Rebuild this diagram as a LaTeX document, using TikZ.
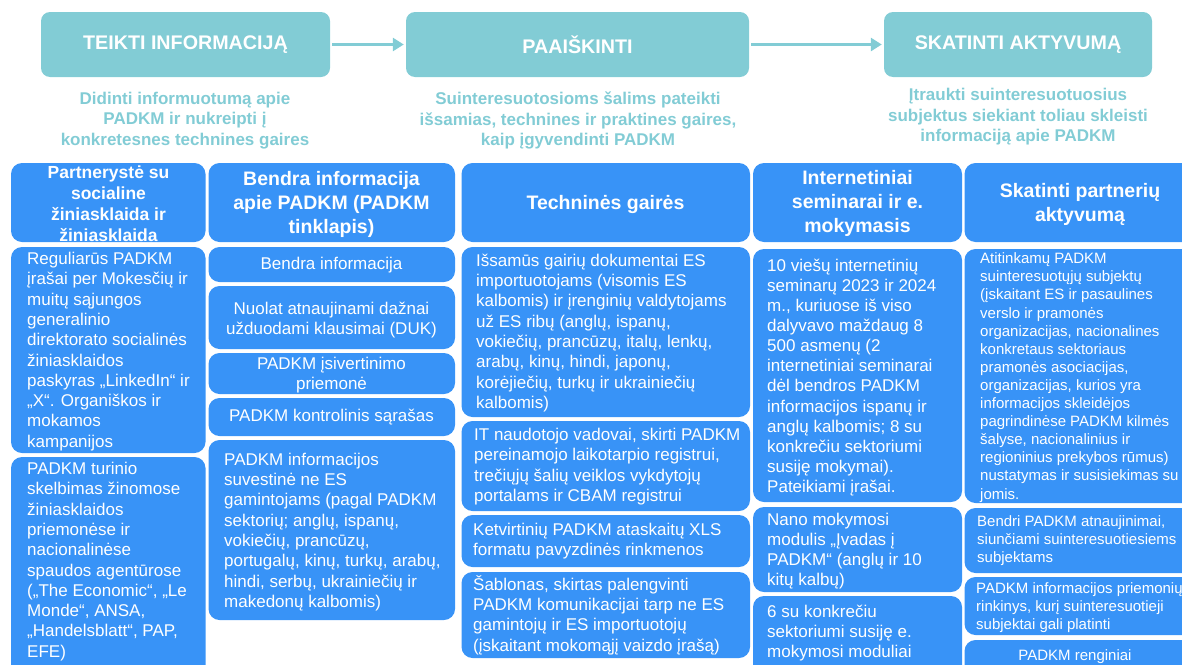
\documentclass[tikz,border=0pt]{standalone}
\usepackage{fontspec}
\setmainfont{Liberation Sans}
\usetikzlibrary{arrows.meta}

\definecolor{tealbox}{RGB}{130,204,213}
\definecolor{bluebox}{RGB}{56,147,247}

\begin{document}
\begin{tikzpicture}[x=1pt, y=-1pt,
  stage/.style={fill=tealbox, rounded corners=9, text=white, inner sep=0,
    minimum height=65, font=\bfseries\fontsize{19.7}{23}\selectfont},
  aim/.style={text=tealbox, align=center, inner sep=0,
    font=\bfseries\fontsize{17}{20.5}\selectfont},
  card/.style={fill=bluebox, rounded corners=11},
  colhead/.style={text=white, align=center, inner sep=0,
    font=\bfseries\fontsize{19.5}{24}\selectfont},
  body/.style={text=white, align=left, inner sep=0,
    font=\fontsize{17}{20.3}\selectfont},
  bodyc/.style={body, align=center},
  small/.style={text=white, align=left, inner sep=0,
    font=\fontsize{15}{18.1}\selectfont}]

\useasboundingbox (0,0) rectangle (1182,664);
\clip (0,0) rectangle (1182,664);

\node[stage, minimum width=289] at (185.5,44.5) (inform) {TEIKTI INFORMACIJĄ};
\node[stage, minimum width=343] at (577.5,44.5) (explain) {PAAIŠKINTI};
\node[stage, minimum width=268] at (1018,44.5) (engage) {SKATINTI AKTYVUMĄ};

\draw[tealbox, line width=3.5, -{Triangle[length=11, width=13]}] ([xshift=2]inform.east) -- ([xshift=-2]explain.west);
\draw[tealbox, line width=3.5, -{Triangle[length=11, width=13]}] ([xshift=2]explain.east) -- ([xshift=-2]engage.west);

\node[aim] at (185,120.5) (aiminform) {Didinti informuotumą apie\\PADKM ir nukreipti į\\konkretesnes technines gaires};
\node[aim] at (578,120.5) (aimexplain) {Suinteresuotosioms šalims pateikti\\išsamias, technines ir praktines gaires,\\kaip įgyvendinti PADKM};
\node[aim] at (1018,117) (aimengage) {Įtraukti suinteresuotuosius\\subjektus siekiant toliau skleisti\\informaciją apie PADKM};

% social media and media
\path[card] (11,163) rectangle (205.5,242);
\path[card] (11,247) rectangle (205.5,453);
\path[card] (11,457) rectangle (205.5,680);
\node[colhead, font=\bfseries\fontsize{17.5}{21}\selectfont] at (108.5,203.5) (mediahead) {Partnerystė su\\socialine\\žiniasklaida ir\\žiniasklaida};
\node[body, anchor=west] at (27,351.5) (posts) {Reguliarūs PADKM\\įrašai per Mokesčių ir\\muitų sąjungos\\generalinio\\direktorato socialinės\\žiniasklaidos\\paskyras „LinkedIn“ ir\\„X“. Organiškos ir\\mokamos\\kampanijos};
\node[body, anchor=west] at (27,561.5) (press) {PADKM turinio\\skelbimas žinomose\\žiniasklaidos\\priemonėse ir\\nacionalinėse\\spaudos agentūrose\\(„The Economic“, „Le\\Monde“, ANSA,\\„Handelsblatt“, PAP,\\EFE)};

% website
\path[card] (208.5,163) rectangle (455,242);
\path[card] (208.5,247) rectangle (455,282);
\path[card] (208.5,286) rectangle (455,349);
\path[card] (208.5,353) rectangle (455,394);
\path[card] (208.5,398) rectangle (455,436);
\path[card] (208.5,440) rectangle (455,620);
\node[colhead] at (331.5,204) (webhead) {Bendra informacija\\apie PADKM (PADKM\\tinklapis)};
\node[bodyc] at (331.5,265) (general) {Bendra informacija};
\node[bodyc] at (331.5,320) (faq) {Nuolat atnaujinami dažnai\\užduodami klausimai (DUK)};
\node[bodyc] at (331.5,375) (selfcheck) {PADKM įsivertinimo\\priemonė};
\node[bodyc] at (331.5,417) (checklist) {PADKM kontrolinis sąrašas};
\node[body, anchor=west] at (224,532) (factsheet) {PADKM informacijos\\suvestinė ne ES\\gamintojams (pagal PADKM\\sektorių; anglų, ispanų,\\vokiečių, prancūzų,\\portugalų, kinų, turkų, arabų,\\hindi, serbų, ukrainiečių ir\\makedonų kalbomis)};

% technical guidance
\path[card] (461.5,163) rectangle (750,242);
\path[card] (461.5,247) rectangle (750,417);
\path[card] (461.5,421) rectangle (750,511);
\path[card] (461.5,515) rectangle (750,567);
\path[card] (461.5,572) rectangle (750,658);
\node[colhead] at (605.5,204) (techhead) {Techninės gairės};
\node[body, anchor=west] at (476,333) (guides) {Išsamūs gairių dokumentai ES\\importuotojams (visomis ES\\kalbomis) ir įrenginių valdytojams\\už ES ribų (anglų, ispanų,\\vokiečių, prancūzų, italų, lenkų,\\arabų, kinų, hindi, japonų,\\korėjiečių, turkų ir ukrainiečių\\kalbomis)};
\node[body, anchor=west] at (474,466.5) (itguides) {IT naudotojo vadovai, skirti PADKM\\pereinamojo laikotarpio registrui,\\trečiųjų šalių veiklos vykdytojų\\portalams ir CBAM registrui};
\node[body, anchor=west] at (473,541) (xlsfiles) {Ketvirtinių PADKM ataskaitų XLS\\formatu pavyzdinės rinkmenos};
\node[body, anchor=west] at (473,615) (template) {Šablonas, skirtas palengvinti\\PADKM komunikacijai tarp ne ES\\gamintojų ir ES importuotojų\\(įskaitant mokomąjį vaizdo įrašą)};

% webinars and e-learning
\path[card] (753,163) rectangle (962,242);
\path[card] (753,249) rectangle (962,502);
\path[card] (753,507) rectangle (962,592);
\path[card] (753,596) rectangle (962,680);
\node[colhead] at (857.5,203.5) (learnhead) {Internetiniai\\seminarai ir e.\\mokymasis};
\node[body, anchor=west, font=\fontsize{17}{20.1}\selectfont] at (767,377.5) (webinars) {10 viešų internetinių\\seminarų 2023 ir 2024\\m., kuriuose iš viso\\dalyvavo maždaug 8\\500 asmenų (2\\internetiniai seminarai\\dėl bendros PADKM\\informacijos ispanų ir\\anglų kalbomis; 8 su\\konkrečiu sektoriumi\\susiję mokymai).\\Pateikiami įrašai.};
\node[body, anchor=west, font=\fontsize{17}{20.1}\selectfont] at (767,551) (nano) {Nano mokymosi\\modulis „Įvadas į\\PADKM“ (anglų ir 10\\kitų kalbų)};
\node[body, anchor=west, font=\fontsize{17}{20.1}\selectfont] at (767,633) (modules) {6 su konkrečiu\\sektoriumi susiję e.\\mokymosi moduliai};

% partner engagement
\path[card] (964.5,163) rectangle (1196,242);
\path[card] (964.5,249) rectangle (1196,503);
\path[card] (964.5,508) rectangle (1196,573);
\path[card] (964.5,577) rectangle (1196,635);
\path[card] (964.5,640) rectangle (1196,690);
\node[colhead] at (1080,204.5) (partnerhead) {Skatinti partnerių\\aktyvumą};
\node[small, anchor=west] at (980,377.5) (stakeholders) {Atitinkamų PADKM\\suinteresuotųjų subjektų\\(įskaitant ES ir pasaulines\\verslo ir pramonės\\organizacijas, nacionalines\\konkretaus sektoriaus\\pramonės asociacijas,\\organizacijas, kurios yra\\informacijos skleidėjos\\pagrindinėse PADKM kilmės\\šalyse, nacionalinius ir\\regioninius prekybos rūmus)\\nustatymas ir susisiekimas su\\jomis.};
\node[small, anchor=west] at (977,541) (updates) {Bendri PADKM atnaujinimai,\\siunčiami suinteresuotiesiems\\subjektams};
\node[small, anchor=west] at (976,608) (toolkit) {PADKM informacijos priemonių\\rinkinys, kurį suinteresuotieji\\subjektai gali platinti};
\node[small, align=center] at (1075,657) (events) {PADKM renginiai};

\end{tikzpicture}
\end{document}
